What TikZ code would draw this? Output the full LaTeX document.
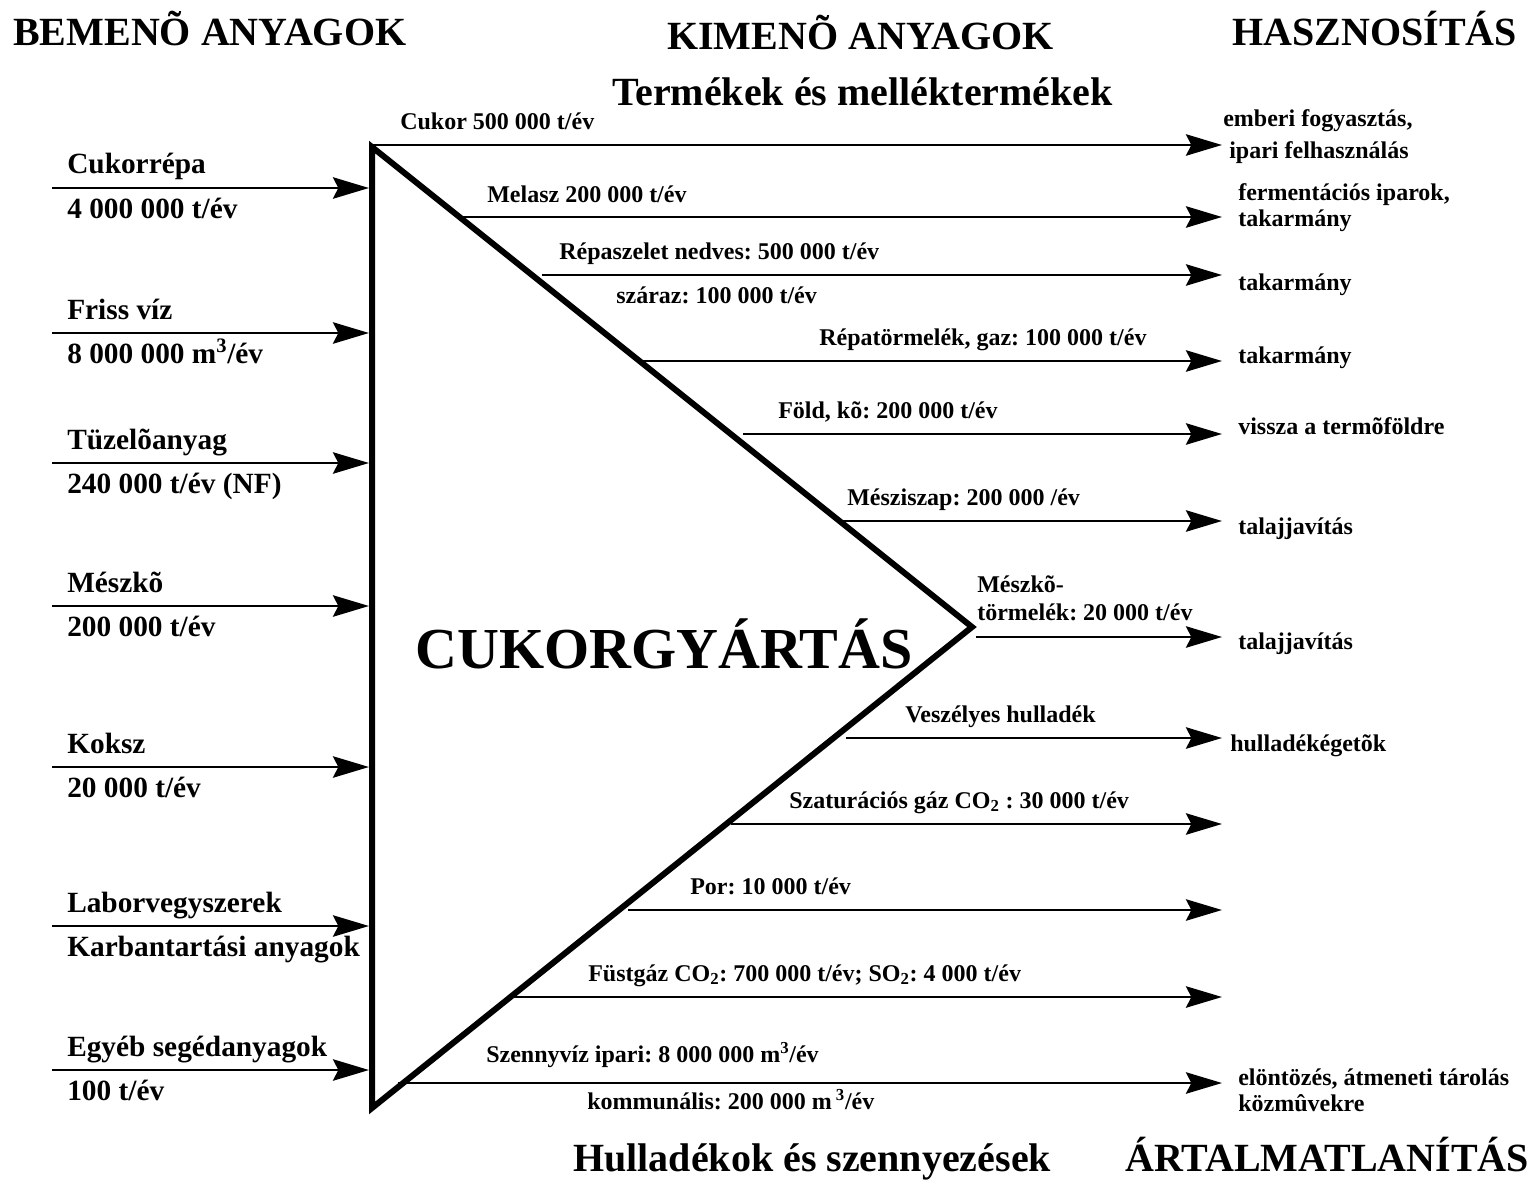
\documentclass[tikz,border=0pt]{standalone}
\usepackage{fontspec}
\setmainfont{Liberation Serif}
\usetikzlibrary{arrows.meta}
\frenchspacing
\begin{document}
\begin{tikzpicture}[x=0.75pt,y=-0.75pt,
  arr/.style={line width=2.2pt,-{Stealth[length=27pt,width=16pt,inset=4pt]}},
  tri/.style={line width=4.5pt,line join=miter},
  lbl/.style={inner sep=0pt,anchor=base west,font=\bfseries},
  inlab/.style={lbl,font=\fontsize{22}{26}\bfseries\selectfont},
  outlab/.style={lbl,font=\fontsize{18}{21}\bfseries\selectfont},
  headlab/.style={lbl,font=\fontsize{30}{34}\bfseries\selectfont},
  biglab/.style={lbl,font=\fontsize{43.5}{50}\bfseries\selectfont}]
\useasboundingbox (0,0) rectangle (1537,1195);

% triangle
\coordinate (T) at (372,147);
\coordinate (A) at (972,627);
\coordinate (B) at (372,1108);
\draw[tri] (T) -- (A) -- (B) -- cycle;

% headings
\node[headlab] (h1) at (13,46) {BEMENÕ ANYAGOK};
\node[headlab] (h2) at (667,50) {KIMENÕ ANYAGOK};
\node[headlab] (h3) at (1232,46) {HASZNOSÍTÁS};
\node[headlab] (h4) at (612,106) {Termékek és melléktermékek};
\node[headlab] (h5) at (573,1171) {Hulladékok és szennyezések};
\node[headlab] (h6) at (1125,1171) {ÁRTALMATLANÍTÁS};
\node[biglab] (main) at (415,668) {CUKORGYÁRTÁS};

% inputs
\foreach \i/\y/\a/\b in {
  1/188/{Cukorrépa}/{4 000 000 t/év},
  2/333/{Friss víz}/{8 000 000 m\textsuperscript{3}/év},
  3/463/{Tüzelõanyag}/{240 000 t/év (NF)},
  4/606/{Mészkõ}/{200 000 t/év},
  5/767/{Koksz}/{20 000 t/év},
  6/926/{Laborvegyszerek}/{Karbantartási anyagok},
  7/1070/{Egyéb segédanyagok}/{100 t/év}}{
  \coordinate (is\i) at (52,\y);
  \coordinate (ie\i) at (369,\y);
  \draw[arr] (is\i) -- (ie\i);
  \node[inlab] (ia\i) at (67,\y-14) {\a};
  \node[inlab] (ib\i) at (67,\y+30) {\b};
}

% outputs
\foreach \i/\x/\y in {1/369/145, 2/459/217, 3/542/275, 4/641/361, 5/743/434,
  6/838/521, 7/976/637, 8/846/738, 9/731/824, 10/628/910, 11/512/997, 12/398/1083}{
  \coordinate (os\i) at (\x,\y);
  \coordinate (oe\i) at (1222,\y);
  \draw[arr] (os\i) -- (oe\i);
}

\node[outlab] (o1) at (400,130) {Cukor 500 000 t/év};
\node[outlab] (o2) at (487,202) {Melasz 200 000 t/év};
\node[outlab] (o3) at (559,259) {Répaszelet nedves: 500 000 t/év};
\node[outlab] (o3b) at (616,303) {száraz: 100 000 t/év};
\node[outlab] (o4) at (819,345) {Répatörmelék, gaz: 100 000 t/év};
\node[outlab] (o5) at (778,418) {Föld, kõ: 200 000 t/év};
\node[outlab] (o6) at (847,505) {Mésziszap: 200 000 /év};
\node[outlab] (o7) at (977,592) {Mészkõ-};
\node[outlab] (o7b) at (977,620) {törmelék: 20 000 t/év};
\node[outlab] (o8) at (905,722) {Veszélyes hulladék};
\node[outlab] (o9) at (789,808) {Szaturációs gáz CO\textsubscript{2} : 30 000 t/év};
\node[outlab] (o10) at (690,894) {Por: 10 000 t/év};
\node[outlab] (o11) at (588,981) {Füstgáz CO\textsubscript{2}: 700 000 t/év; SO\textsubscript{2}: 4 000 t/év};
\node[outlab] (o12) at (486,1062) {Szennyvíz ipari: 8 000 000 m\textsuperscript{3}/év};
\node[outlab] (o12b) at (587,1109) {kommunális: 200 000 m\,\textsuperscript{3}/év};

% uses
\node[outlab] (u1) at (1223,127) {emberi fogyasztás,};
\node[outlab] (u1b) at (1229,159) {ipari felhasználás};
\node[outlab] (u2) at (1238,200) {fermentációs iparok,};
\node[outlab] (u2b) at (1238,226) {takarmány};
\node[outlab] (u3) at (1238,290) {takarmány};
\node[outlab] (u4) at (1238,363) {takarmány};
\node[outlab] (u5) at (1238,434) {vissza a termõföldre};
\node[outlab] (u6) at (1238,534) {talajjavítás};
\node[outlab] (u7) at (1238,649) {talajjavítás};
\node[outlab] (u8) at (1230,751) {hulladékégetõk};
\node[outlab] (u9) at (1238,1085) {elöntözés, átmeneti tárolás};
\node[outlab] (u9b) at (1238,1111) {közmûvekre};
\end{tikzpicture}
\end{document}
